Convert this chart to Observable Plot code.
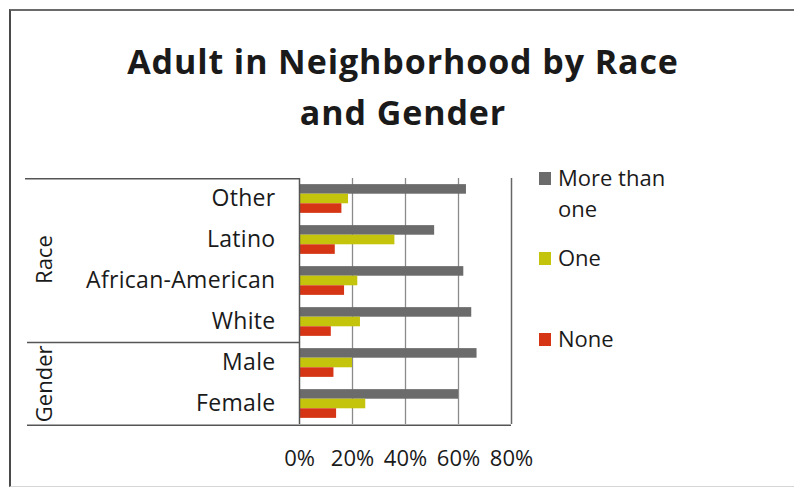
<!DOCTYPE html>
<html>
<head>
<meta charset="utf-8">
<script src="https://cdn.jsdelivr.net/npm/d3@7"></script>
<script src="https://cdn.jsdelivr.net/npm/@observablehq/plot@0.6"></script>
<style>
html, body { margin: 0; padding: 0; background: #fff; }
#page { position: relative; width: 794px; height: 487px; overflow: hidden; font-family: "Open Sans", sans-serif; color: #1a1a1a; background: #fff; }
#frame { position: absolute; left: 9px; top: 9px; width: 800px; height: 475px; border-left: 2px solid #4a4a4a; border-top: 2px solid #6a6a6a; border-bottom: 1px solid #d6d6d6; z-index: 2; pointer-events: none; }
#title { box-sizing: border-box; height: 150px; padding-top: 36px; padding-left: 12px; text-align: center; font-weight: 700; font-size: 34px; letter-spacing: 0.9px; line-height: 51px; }
#chart svg { display: block; }
</style>
</head>
<body>
<div id="page">
  <div id="frame"></div>
  <div id="title">Adult in Neighborhood by Race<br>and Gender</div>
  <div id="chart"></div>
</div>
<script>
// ---- data ----
const categories = ["Other", "Latino", "African-American", "White", "Male", "Female"];
const series = ["More than one", "One", "None"];
const moreThanOne = [0.63, 0.51, 0.62, 0.65, 0.67, 0.60];
const one = [0.185, 0.36, 0.22, 0.23, 0.20, 0.25];
const none = [0.16, 0.135, 0.17, 0.12, 0.13, 0.14];
const xTicks = [0, 0.2, 0.4, 0.6, 0.8];
const groups = [
  {name: "Race", members: ["Other", "Latino", "African-American", "White"]},
  {name: "Gender", members: ["Male", "Female"]}
];
const legendLabels = [["More than", "one"], ["One"], ["None"]];
const colors = ["#6b6b6b", "#c4c40c", "#d53514"];

const valuesBySeries = [moreThanOne, one, none];
const rows = [];
categories.forEach((c, i) => series.forEach((s, j) => rows.push({category: c, series: s, value: valuesBySeries[j][i]})));

const H = 337, TOP = 150;
const plot = Plot.plot({
  width: 794,
  height: H,
  marginTop: 26.8,
  marginBottom: 61.8,
  marginLeft: 299,
  marginRight: 283,
  style: {fontFamily: '"Open Sans", sans-serif', fontSize: "22px", color: "#1a1a1a", background: "transparent", overflow: "visible"},
  x: {domain: [0, 0.8], ticks: xTicks, tickFormat: d => Math.round(d * 100) + "%", tickSize: 0, tickPadding: 26, label: null},
  y: {domain: series, axis: null, padding: 0, paddingInner: 0, paddingOuter: 0.64, round: false},
  fy: {domain: categories, padding: 0, axis: "left", tickSize: 0, tickPadding: 24, label: null},
  color: {domain: series, range: colors},
  marks: [
    Plot.ruleX(xTicks.slice(1, -1), {stroke: "#8a8a8a", strokeWidth: 1.3}),
    Plot.ruleX(xTicks.slice(-1), {stroke: "#666", strokeWidth: 1.5}),
    Plot.barX(rows, {x: "value", y: "series", fy: "category", fill: "series", insetTop: 0, insetBottom: 0}),
    Plot.ruleX([0], {stroke: "#555", strokeWidth: 1.5})
  ]
});
document.getElementById("chart").appendChild(plot);

// ---- decorations using the plot's own scales ----
const fyS = plot.scale("fy");
const xS = plot.scale("x");
const fyBand = d3.scaleBand().domain(fyS.domain).range(fyS.range).paddingInner(0).paddingOuter(0);
const fy = c => fyBand(c);
const bw = fyBand.bandwidth();
const xs = d3.scaleLinear().domain(xS.domain).range(xS.range);
const svg = d3.select(plot.tagName.toLowerCase() === "svg" ? plot : plot.querySelector("svg"));

// category labels a bit larger (Calibri-like width)
svg.selectAll('[aria-label="fy-axis tick label"] text, [aria-label="fy-axis"] text')
  .attr("font-size", 23).style("letter-spacing", "0.3px");

const top0 = fy(categories[0]);
const bottom0 = fy(categories[categories.length - 1]) + bw;
const deco = svg.append("g").attr("stroke", "#555").attr("stroke-width", 1.5);
deco.append("line").attr("x1", 25).attr("x2", xs(0)).attr("y1", top0 + 2).attr("y2", top0 + 2);
groups.slice(1).forEach(g => {
  const y = fy(g.members[0]);
  deco.append("line").attr("x1", 27).attr("x2", xs(0)).attr("y1", y).attr("y2", y);
});
deco.append("line").attr("x1", 27).attr("x2", xs(0.8)).attr("y1", bottom0).attr("y2", bottom0);

groups.forEach(g => {
  const y1 = fy(g.members[0]);
  const y2 = fy(g.members[g.members.length - 1]) + bw;
  const cy = (y1 + y2) / 2;
  svg.append("text")
    .attr("transform", `translate(52,${cy}) rotate(-90)`)
    .attr("text-anchor", "middle")
    .attr("font-family", '"Open Sans", sans-serif')
    .attr("font-size", 22)
    .attr("fill", "#1a1a1a")
    .text(g.name);
});

// legend
const color = plot.scale("color");
const legendY = [172, 252, 333];
const leg = svg.append("g")
  .attr("font-family", '"Open Sans", sans-serif')
  .attr("font-size", 22)
  .attr("text-anchor", "start")
  .attr("fill", "#1a1a1a");
series.forEach((s, i) => {
  const y = legendY[i] - TOP;
  leg.append("rect").attr("x", 539).attr("y", y).attr("width", 12).attr("height", 13).attr("fill", color.range[i]);
  legendLabels[i].forEach((t, k) => {
    leg.append("text").attr("x", 558).attr("y", y + 14 + k * 31).attr("text-anchor", "start").text(t);
  });
});
</script>
</body>
</html>
